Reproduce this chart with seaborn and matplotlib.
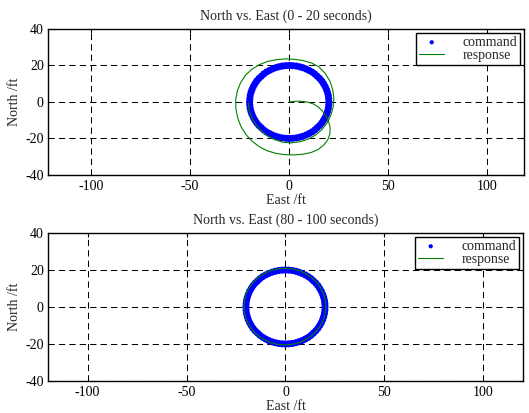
import numpy as np
import pandas as pd
import matplotlib.pyplot as plt
import seaborn as sns

# command: circle of radius 20 ft (same in both windows)
cmd_east = [20.0, 19.9, 19.7, 19.3, 18.8, 18.1, 17.3, 16.4, 15.3, 14.1, 12.9, 11.5,
            10.0, 8.5, 6.8, 5.2, 3.5, 1.7,
            0.0, -1.7, -3.5, -5.2, -6.8, -8.5, -10.0, -11.5, -12.9, -14.1, -15.3, -16.4,
            -17.3, -18.1, -18.8, -19.3, -19.7, -19.9,
            -20.0, -19.9, -19.7, -19.3, -18.8, -18.1, -17.3, -16.4, -15.3, -14.1, -12.9, -11.5,
            -10.0, -8.5, -6.8, -5.2, -3.5, -1.7,
            0.0, 1.7, 3.5, 5.2, 6.8, 8.5, 10.0, 11.5, 12.9, 14.1, 15.3, 16.4,
            17.3, 18.1, 18.8, 19.3, 19.7, 19.9]
cmd_north = [0.0, 1.7, 3.5, 5.2, 6.8, 8.5, 10.0, 11.5, 12.9, 14.1, 15.3, 16.4,
             17.3, 18.1, 18.8, 19.3, 19.7, 19.9,
             20.0, 19.9, 19.7, 19.3, 18.8, 18.1, 17.3, 16.4, 15.3, 14.1, 12.9, 11.5,
             10.0, 8.5, 6.8, 5.2, 3.5, 1.7,
             0.0, -1.7, -3.5, -5.2, -6.8, -8.5, -10.0, -11.5, -12.9, -14.1, -15.3, -16.4,
             -17.3, -18.1, -18.8, -19.3, -19.7, -19.9,
             -20.0, -19.9, -19.7, -19.3, -18.8, -18.1, -17.3, -16.4, -15.3, -14.1, -12.9, -11.5,
             -10.0, -8.5, -6.8, -5.2, -3.5, -1.7]

# response, 0 - 20 s (spiral from the origin onto the circle)
resp1_east = [0.0, 3.0, 6.0, 9.0, 12.0, 14.5, 16.6, 18.4, 19.8, 20.6, 20.5, 19.4,
              17.4, 14.6, 11.0, 7.0, 2.5, -2.0, -6.5, -11.0, -15.0, -18.6, -21.8, -24.3,
              -26.0, -26.9, -27.0, -26.2, -24.6, -22.2, -19.0, -15.2, -11.0, -6.5, -2.0, 2.5,
              7.0, 11.2, 15.0, 18.2, 20.6, 22.0, 22.5, 22.1, 20.9, 19.0, 16.4, 13.2,
              9.5, 5.4, 1.0, -3.4, -7.4, -11.0, -14.0, -16.6, -18.8, -20.2, -20.7]
resp1_north = [0.0, 0.4, 0.4, 0.0, -1.0, -2.6, -4.8, -7.5, -10.6, -14.0, -17.5, -20.8,
               -23.6, -26.0, -27.7, -28.6, -29.0, -28.9, -28.2, -26.8, -24.6, -21.6, -17.9, -13.6,
               -8.8, -3.8, 1.2, 6.0, 10.5, 14.5, 17.8, 20.4, 22.2, 23.2, 23.6, 23.4,
               22.7, 21.4, 19.2, 15.6, 11.2, 6.4, 1.7, -3.0, -7.5, -11.6, -15.2, -18.2,
               -20.4, -21.8, -22.4, -22.0, -20.6, -18.6, -16.0, -12.7, -8.8, -4.6, -0.3]

# response, 80 - 100 s (settled on the circle)
resp2_east = [20.4, 20.1, 19.2, 17.6, 15.6, 13.0, 10.1, 6.8, 3.3, -0.3, -3.9, -7.4,
              -10.7, -13.6, -16.2, -18.2, -19.8, -20.7, -21.0, -20.7, -19.8, -18.2, -16.2, -13.6,
              -10.7, -7.4, -3.9, -0.3, 3.3, 6.8, 10.1, 13.0, 15.6, 17.6, 19.2, 20.1, 20.4]
resp2_north = [0.2, 3.8, 7.3, 10.6, 13.5, 16.1, 18.1, 19.7, 20.6, 20.9, 20.6, 19.7,
               18.1, 16.1, 13.5, 10.6, 7.3, 3.8, 0.2, -3.4, -6.9, -10.2, -13.1, -15.7,
               -17.7, -19.3, -20.2, -20.5, -20.2, -19.3, -17.7, -15.7, -13.1, -10.2, -6.9, -3.4, 0.2]

titles = ["North vs. East (0 - 20 seconds)", "North vs. East (80 - 100 seconds)"]
x_ticks = [-100, -50, 0, 50, 100]
y_ticks = [-40, -20, 0, 20, 40]

sns.set_style("white")
plt.rcParams["font.family"] = ["Liberation Serif", "DejaVu Serif"]
plt.rcParams["font.size"] = 10
plt.rcParams["axes.unicode_minus"] = False

fig = plt.figure(figsize=(5.29, 4.13), dpi=100)
ax_top = fig.add_axes([0.0907, 0.5763, 0.8998, 0.3535])
ax_bot = fig.add_axes([0.0907, 0.0775, 0.8979, 0.3584])

panels = [
    (ax_top, resp1_east, resp1_north, (-121.7, 118.4)),
    (ax_bot, resp2_east, resp2_north, (-120, 120)),
]

for (ax, r_east, r_north, xlim), title in zip(panels, titles):
    sns.scatterplot(x=cmd_east, y=cmd_north, ax=ax, color="blue", s=26,
                    edgecolor="none", linewidth=0, label="command", zorder=3)
    sns.lineplot(x=r_east, y=r_north, ax=ax, sort=False, estimator=None,
                 color="green", linewidth=0.8, label="response", zorder=4)

    ax.set_xlim(*xlim)
    ax.set_ylim(-40, 40)
    ax.set_xticks(x_ticks)
    ax.set_yticks(y_ticks)
    ax.grid(True, color="black", linestyle=(0, (6, 4)), linewidth=0.75)
    ax.tick_params(direction="in", length=3, width=0.8, top=True, right=True,
                   pad=3.5, labelsize=10, colors="black")
    ax.tick_params(axis="y", pad=3)
    for sp in ax.spines.values():
        sp.set_visible(True)
        sp.set_color("black")
        sp.set_linewidth(1.0)
    ax.set_title(title, fontsize=10, pad=6.5)
    ax.set_xlabel("East /ft", fontsize=10, labelpad=0.5)
    ax.set_ylabel("North /ft", fontsize=10, labelpad=3)
    leg = ax.legend(loc="upper right", fancybox=False, framealpha=1,
                    edgecolor="black", fontsize=10, borderaxespad=0.3,
                    handlelength=1.8, handletextpad=1.3, borderpad=0.2,
                    labelspacing=0.0, markerscale=0.6)
    leg.get_frame().set_linewidth(1.0)

fig.savefig("out.png", dpi=100)
